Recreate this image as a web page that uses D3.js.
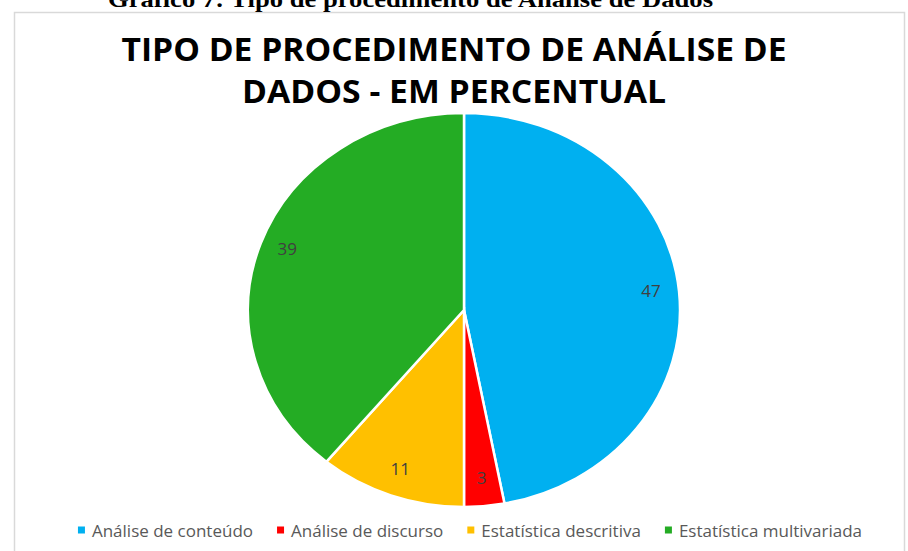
<!DOCTYPE html>
<html>
<head>
<meta charset="utf-8">
<script src="https://cdn.jsdelivr.net/npm/d3@7"></script>
<style>
  html, body { margin: 0; padding: 0; background: #ffffff; }
  svg { display: block; }
</style>
</head>
<body>
<svg id="chart" width="908" height="551"></svg>
<script>
const categories = ['Análise de conteúdo', 'Análise de discurso', 'Estatística descritiva', 'Estatística multivariada'];
const values = [47, 3, 11, 39];
const colors = ['#00b0f0', '#ff0000', '#ffc000', '#24ac24'];
const caption = 'Gráfico 7: Tipo de procedimento de Análise de Dados';
const titleLines = ['TIPO DE PROCEDIMENTO DE ANÁLISE DE', 'DADOS - EM PERCENTUAL'];

const W = 908, H = 551;
const svg = d3.select('#chart');

// chart area frame
svg.append('rect')
  .attr('x', 14.5).attr('y', 12.5)
  .attr('width', 890).attr('height', 560)
  .attr('fill', '#ffffff')
  .attr('stroke', '#d9d9d9')
  .attr('stroke-width', 1.5);

// document caption, cut off at the top like in the source page
svg.append('text')
  .attr('x', 108).attr('y', 7)
  .attr('font-family', '"Liberation Serif", "Times New Roman", serif')
  .attr('font-weight', 'bold')
  .attr('font-size', 23)
  .attr('fill', '#000')
  .attr('textLength', 605)
  .attr('lengthAdjust', 'spacingAndGlyphs')
  .text(caption);

// title
const titleSpecs = [
  { y: 61, width: 665 },
  { y: 103, width: 424 },
];
titleLines.forEach((t, i) => {
  svg.append('text')
    .attr('x', 454).attr('y', titleSpecs[i].y)
    .attr('text-anchor', 'middle')
    .attr('font-family', '"Open Sans", sans-serif')
    .attr('font-weight', 'bold')
    .attr('font-size', 33)
    .attr('fill', '#000')
    .attr('textLength', titleSpecs[i].width)
    .attr('lengthAdjust', 'spacingAndGlyphs')
    .text(t);
});

// pie (slightly squashed vertically like the original)
const cx = 464, cy = 310, R = 216, ry = 197 / 216;
const pie = d3.pie().sort(null).value(d => d)(values);
const arc = d3.arc().innerRadius(0).outerRadius(R);
const labelArc = d3.arc().innerRadius(R * 0.87).outerRadius(R * 0.87);

const pieG = svg.append('g')
  .attr('transform', `translate(${cx},${cy}) scale(1,${ry})`);

pieG.selectAll('path')
  .data(pie)
  .join('path')
  .attr('d', arc)
  .attr('fill', (d, i) => colors[i])
  .attr('stroke', '#ffffff')
  .attr('stroke-width', 2.5)
  .attr('vector-effect', 'non-scaling-stroke');

svg.append('g')
  .selectAll('text')
  .data(pie)
  .join('text')
  .attr('x', d => cx + labelArc.centroid(d)[0])
  .attr('y', d => cy + labelArc.centroid(d)[1] * ry - 3)
  .attr('text-anchor', 'middle')
  .attr('dominant-baseline', 'central')
  .attr('font-family', '"Open Sans", sans-serif')
  .attr('font-size', 17)
  .attr('fill', '#404040')
  .text(d => d.data);

// legend
const legend = svg.append('g').attr('transform', 'translate(0,530)');
const items = legend.selectAll('g')
  .data(categories)
  .join('g');
items.append('rect')
  .attr('x', 0).attr('y', -3.5)
  .attr('width', 7).attr('height', 7)
  .attr('fill', (d, i) => colors[i]);
items.append('text')
  .attr('x', 14).attr('y', 0)
  .attr('dominant-baseline', 'central')
  .attr('font-family', '"Open Sans", sans-serif')
  .attr('font-size', 17)
  .attr('fill', '#595959')
  .text(d => d);

const gap = 24;
let offset = 0;
const widths = [];
items.each(function() {
  const w = 14 + this.querySelector('text').getComputedTextLength();
  widths.push(w);
});
const total = d3.sum(widths) + gap * (widths.length - 1);
let x0 = (77 + 863) / 2 - total / 2;
items.attr('transform', (d, i) => {
  const x = x0 + offset;
  offset += widths[i] + gap;
  return `translate(${x},0)`;
});
</script>
</body>
</html>
